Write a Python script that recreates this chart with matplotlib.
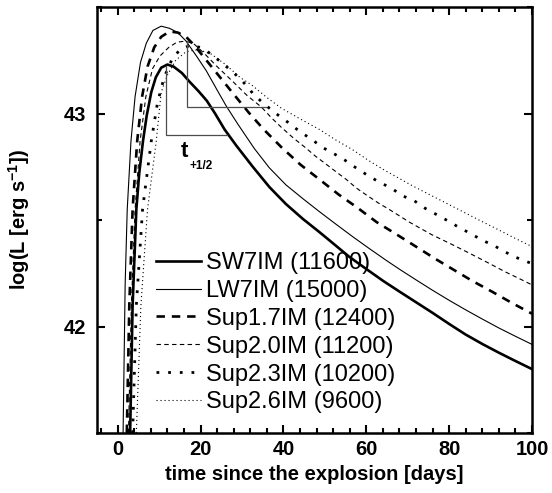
import matplotlib
matplotlib.use('Agg')
import matplotlib.pyplot as plt
from matplotlib.ticker import MultipleLocator

plt.rcParams['font.family'] = ['Liberation Sans', 'DejaVu Sans']
plt.rcParams['mathtext.fontset'] = 'custom'
plt.rcParams['mathtext.rm'] = 'Liberation Sans:bold'
plt.rcParams['mathtext.default'] = 'rm'

# light curves: time [days], log L
sw7_t = [3.0, 3.6, 4.5, 5.2, 6.1, 7.0, 8.1, 9.2, 10.5, 12.0, 13.5, 15.5, 17.3, 19.5, 21.5, 23.5,
         25.8, 28.6, 32.6, 36.6, 40.6, 44.7, 48.7, 52.0, 55.9, 60.0, 64.0, 68.0, 72.0, 76.0,
         80.0, 84.0, 88.0, 92.0, 96.0, 100.0]
sw7_L = [41.5, 42.1, 42.55, 42.72, 42.87, 42.99, 43.10, 43.17, 43.215, 43.23, 43.22, 43.19, 43.15,
         43.105, 43.06, 43.0, 42.925, 42.85, 42.75, 42.655, 42.575, 42.505, 42.443, 42.39, 42.327,
         42.27, 42.215, 42.164, 42.114, 42.064, 42.012, 41.962, 41.918, 41.877, 41.838, 41.80]

lw7_t = [1.3, 1.8, 2.3, 3.2, 4.2, 5.5, 6.9, 8.5, 10.5, 12.5, 14.5, 16.5, 19.0, 21.4, 24.0, 26.2,
         29.0, 33.0, 36.6, 40.6, 44.7, 48.7, 52.7, 56.7, 60.5, 64.7, 68.0, 72.0, 76.0, 80.0,
         84.0, 88.0, 92.0, 96.0, 100.0]
lw7_L = [41.5, 42.2, 42.55, 42.87, 43.08, 43.24, 43.33, 43.39, 43.41, 43.40, 43.38, 43.34, 43.27,
         43.20, 43.11, 43.035, 42.95, 42.835, 42.745, 42.665, 42.60, 42.539, 42.48, 42.422, 42.369,
         42.312, 42.269, 42.219, 42.17, 42.123, 42.078, 42.035, 41.993, 41.954, 41.916]

sup17_t = [2.2, 2.8, 3.6, 4.7, 5.9, 7.2, 8.8, 10.5, 12.5, 14.5, 16.5, 18.5, 21.4, 24.5, 27.6,
           31.6, 35.2, 39.6, 44.1, 48.4, 53.3, 57.7, 62.5, 67.5, 72.0, 76.8, 81.2, 85.5, 90.4,
           95.2, 100.0]
sup17_L = [41.5, 42.1, 42.55, 42.87, 43.08, 43.22, 43.31, 43.36, 43.385, 43.38, 43.36, 43.32,
           43.25, 43.175, 43.10, 43.005, 42.926, 42.84, 42.76, 42.695, 42.62, 42.56, 42.49, 42.43,
           42.375, 42.316, 42.265, 42.215, 42.163, 42.11, 42.06]

sup20_t = [2.6, 3.3, 4.2, 5.4, 6.8, 8.4, 10.2, 12.3, 14.3, 16.5, 18.5, 21.0, 24.0, 27.8, 31.2,
           34.7, 37.1, 39.5, 42.4, 45.3, 47.7, 50.1, 52.8, 55.2, 57.6, 60.2, 62.9, 65.5, 70.4,
           75.9, 80.7, 84.8, 88.8, 93.7, 98.5, 100.0]
sup20_L = [41.5, 42.1, 42.55, 42.87, 43.08, 43.21, 43.27, 43.31, 43.335, 43.34, 43.325, 43.28,
           43.22, 43.15, 43.085, 43.03, 42.98, 42.935, 42.885, 42.84, 42.80, 42.765, 42.725,
           42.69, 42.65, 42.615, 42.58, 42.55, 42.49, 42.43, 42.385, 42.345, 42.305, 42.255,
           42.21, 42.195]

sup23_t = [3.6, 4.5, 6.0, 8.1, 9.6, 11.2, 13.0, 15.0, 17.5, 20.0, 22.5, 25.0, 27.8, 30.2, 32.6,
           35.0, 38.2, 41.0, 43.9, 46.7, 49.5, 52.3, 54.9, 57.5, 60.3, 63.1, 66.0, 68.7, 71.6,
           74.2, 77.0, 79.8, 82.4, 85.2, 88.0, 90.8, 93.5, 96.2, 100.0]
sup23_L = [41.5, 42.1, 42.55, 42.87, 43.05, 43.17, 43.25, 43.30, 43.32, 43.31, 43.28, 43.24,
           43.195, 43.15, 43.095, 43.05, 43.0, 42.96, 42.916, 42.88, 42.84, 42.81, 42.78, 42.745,
           42.71, 42.678, 42.65, 42.614, 42.59, 42.555, 42.525, 42.495, 42.465, 42.436, 42.405,
           42.38, 42.35, 42.324, 42.295]

sup26_t = [4.5, 5.6, 7.2, 9.3, 10.5, 12.0, 14.0, 16.5, 19.5, 22.5, 26.0, 29.5, 32.6, 36.0, 39.5,
           44.0, 48.7, 52.7, 56.7, 60.5, 64.3, 67.5, 71.2, 75.2, 79.2, 83.2, 87.2, 91.3, 95.3,
           100.0]
sup26_L = [41.5, 42.1, 42.55, 42.87, 43.10, 43.18, 43.25, 43.29, 43.30, 43.28, 43.23, 43.17,
           43.13, 43.075, 43.025, 42.975, 42.925, 42.875, 42.83, 42.78, 42.735, 42.70, 42.66,
           42.62, 42.58, 42.54, 42.50, 42.46, 42.42, 42.375]

labels = ['SW7IM (11600)', 'LW7IM (15000)', 'Sup1.7IM (12400)',
          'Sup2.0IM (11200)', 'Sup2.3IM (10200)', 'Sup2.6IM (9600)']

# t_{+1/2} brackets: peak time, peak logL, logL at half, time at half
br1 = [11.6, 43.225, 42.90, 26.3]
br2 = [16.7, 43.34, 43.03, 35.8]

fig = plt.figure(figsize=(5.52, 4.93), dpi=100)
ax = fig.add_axes([0.1757, 0.1217, 0.7881, 0.8641])

ax.plot(sw7_t, sw7_L, color='k', lw=1.9, ls='-', label=labels[0])
ax.plot(lw7_t, lw7_L, color='k', lw=0.8, ls='-', label=labels[1])
ax.plot(sup17_t, sup17_L, color='k', lw=1.9, ls=(0, (3.2, 2.6)), label=labels[2])
ax.plot(sup20_t, sup20_L, color='k', lw=0.8, ls=(0, (4, 3)), label=labels[3])
ax.plot(sup23_t, sup23_L, color='k', lw=2.0, ls=(0, (1, 3.2)), label=labels[4])
ax.plot(sup26_t, sup26_L, color='k', lw=0.8, ls=(0, (1, 2.6)), label=labels[5])

for b in [br1, br2]:
    ax.plot([b[0], b[0], b[3]], [b[1], b[2], b[2]], color='0.3', lw=0.9)

ax.text(15.2, 42.82, 't', fontsize=16, fontweight='bold', va='center', ha='left')
ax.text(17.4, 42.755, '+1/2', fontsize=8.5, fontweight='bold', va='center', ha='left')

ax.set_xlim(-5, 100)
ax.set_ylim(41.5, 43.5)
ax.xaxis.set_major_locator(MultipleLocator(20))
ax.xaxis.set_minor_locator(MultipleLocator(4))
ax.yaxis.set_major_locator(MultipleLocator(1))
ax.yaxis.set_minor_locator(MultipleLocator(0.5))
ax.tick_params(which='both', direction='in', top=True, right=True, width=1.5,
               labelsize=14.5)
ax.tick_params(which='major', length=6)
ax.tick_params(which='minor', length=3.5)
ax.tick_params(axis='x', pad=5)
ax.tick_params(axis='y', pad=8)
for lab in ax.get_xticklabels() + ax.get_yticklabels():
    lab.set_fontweight('bold')
for s in ax.spines.values():
    s.set_linewidth(1.8)

ax.set_xlabel('time since the explosion [days]', fontsize=14.5, fontweight='bold', labelpad=4)
ax.set_ylabel(r'log(L [erg s$^{-1}$])', fontsize=14.5, fontweight='bold', labelpad=23)

ax.legend(loc='upper left', bbox_to_anchor=(0.135, 0.425), frameon=False, fontsize=17,
          handlelength=1.9, handletextpad=0.25, labelspacing=0.25, borderpad=0,
          borderaxespad=0)

fig.savefig('out.png', dpi=100)
